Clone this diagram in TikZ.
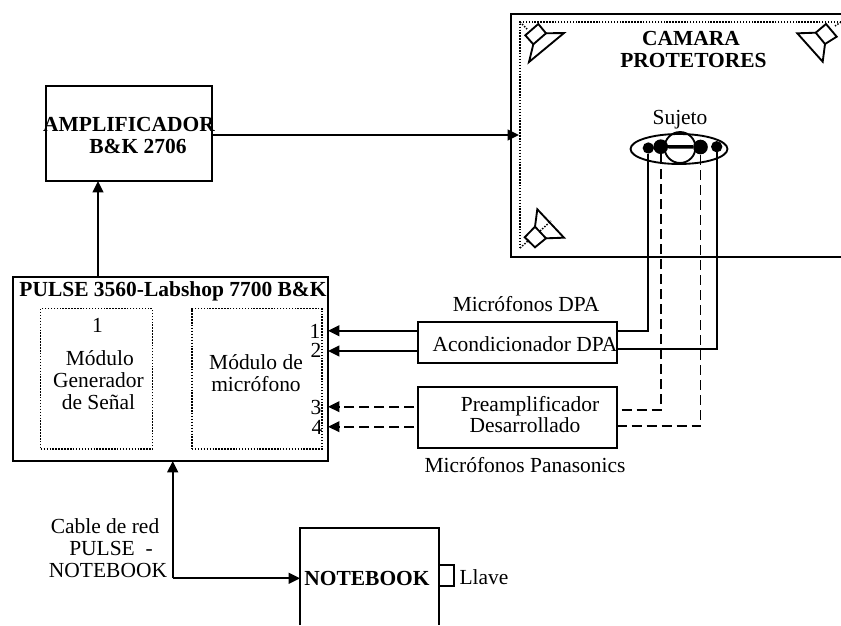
\documentclass[tikz,border=0pt]{standalone}
\usepackage{fontspec}
\setmainfont{Liberation Serif}
\usetikzlibrary{arrows.meta,shapes.geometric,calc}
\tikzset{
  box/.style={draw,line width=1.4pt,rectangle,inner sep=0pt,outer sep=0pt},
  dotbox/.style={draw,rectangle,inner sep=0pt,outer sep=0pt,dotline},
  dotline/.style={line width=1.1pt,dash pattern=on 1.1pt off 1.1pt},
  wire/.style={line width=1.5pt},
  dwire/.style={line width=1.2pt,dash pattern=on 7.5pt off 3.75pt},
  arr/.style={-{Triangle[length=8.5pt,width=8pt]}},
  txt/.style={inner sep=0pt,outer sep=0pt,font=\fontsize{16.1}{16.3}\selectfont,align=center},
  btxt/.style={txt,font=\fontsize{16.1}{16.3}\selectfont\bfseries},
  spk/.style={line width=1.4pt,line join=miter},
  micdot/.style={circle,fill=black,inner sep=0pt,outer sep=0pt,minimum size=8.5pt},
  bigdot/.style={circle,fill=black,inner sep=0pt,outer sep=0pt,minimum size=11pt},
}
\begin{document}
\begin{tikzpicture}[x=0.75pt,y=-0.75pt]
\useasboundingbox (0,0) rectangle (841,625);
% boxes
\node[box,minimum width=124.7pt,minimum height=71.5pt] (amp) at (129.15,133.35) {};
\node[box,minimum width=236.5pt,minimum height=138.2pt] (pulse) at (170.35,368.85) {};
\node[dotbox,minimum width=83.7pt,minimum height=105.2pt] (gen) at (96.5,378.85) {};
\node[dotbox,minimum width=97.5pt,minimum height=105.2pt] (mic) at (257,378.85) {};
\node[box,minimum width=149pt,minimum height=30.3pt] (acond) at (517.35,342.5) {};
\node[box,minimum width=149pt,minimum height=45.75pt] (preamp) at (517.35,417.5) {};
\node[box,minimum width=11pt,minimum height=15.75pt] (key) at (446.65,575.5) {};
% camera room (runs off the picture)
\coordinate (camTL) at (511,14);
\coordinate (camBL) at (511,257);
\coordinate (camTR) at (841,14);
\coordinate (camBR) at (841,257);
\draw[wire,line width=1.6pt] (camTR) -- (camTL) -- (camBL) -- (camBR);
\coordinate (inTL) at (520,22);
\coordinate (inBL) at (520,248);
\coordinate (inTR) at (841,22);
\draw[dotline] (inTR) -- (inTL) -- (inBL);
% notebook (runs off the picture)
\coordinate (nbTL) at (300,528);
\coordinate (nbTR) at (439.3,528);
\coordinate (nbBL) at (300,625);
\coordinate (nbBR) at (439.3,625);
\draw[wire,line width=1.4pt] (nbBL) -- (nbTL) -- (nbTR) -- (nbBR);
% speakers
\draw[spk] (538.3,24) -- (546,33.3) -- (533.3,44.3) -- (525.3,35.3) -- cycle;
\draw[spk] (546,33.3) -- (564,33) -- (529,62) -- (533.3,44.3);
\draw[spk] (826,24) -- (836.7,36.7) -- (825,44) -- (815.7,32.7) -- cycle;
\draw[spk] (815.7,32.7) -- (797.3,33.3) -- (822.7,61.7) -- (825,44);
\draw[spk] (535,226.7) -- (546,238.3) -- (535,247.3) -- (524.7,237.3) -- cycle;
\draw[spk] (546,238.3) -- (564,237.7) -- (537.3,209.3) -- (535,226.7);
\draw[dotline] (inTL) -- (527,29);
\draw[dotline] (inTR) -- (835,26);
\draw[dotline] (inBL) -- (529,240);
\draw[dotline] (540,231) -- (551,221);
% subject
\node[draw,ellipse,line width=1.4pt,inner sep=0pt,outer sep=0pt,minimum width=72.7pt,minimum height=22.5pt] (sujeto) at (679,149) {};
\node[draw,circle,line width=1.4pt,inner sep=0pt,outer sep=0pt,minimum size=23.2pt] (head) at (680,147.5) {};
\node[micdot] (m1) at (648.3,148) {};
\node[micdot] (m2) at (716.7,146.7) {};
\node[bigdot] (p1) at (660.7,146.7) {};
\node[bigdot] (p2) at (700.5,147) {};
\draw[line width=2.6pt] (p1) -- (p2);
% wires
\coordinate (wa) at (acond.east |- 0,330.7);
\coordinate (wb) at (acond.east |- 0,349.3);
\coordinate (wc) at (621.7,410);
\coordinate (wd) at (preamp.east |- 0,425.7);
\draw[wire] (m1.south) |- (wa);
\draw[wire] (m2.south) |- (wb);
\draw[dwire] (wc) -| (p1.south);
\draw[dwire] (wd) -| (p2.south);
% inputs to pulse
\coordinate (i1) at (acond.west |- 0,330.7);
\coordinate (i2) at (acond.west |- 0,351);
\coordinate (i3) at (414,406.7);
\coordinate (i4) at (414,426.7);
\draw[wire,arr] (i1) -- (i1 -| pulse.east);
\draw[wire,arr] (i2) -- (i2 -| pulse.east);
\draw[dwire,arr] (i3) -- (i3 -| pulse.east);
\draw[dwire,arr] (i4) -- (i4 -| pulse.east);
% main arrows
\draw[wire,arr] (pulse.north -| 98,0) -- (amp.south -| 98,0);
\coordinate (camIn) at (519,135);
\draw[wire,arr] (amp.east |- camIn) -- (camIn);
\coordinate (bend) at (172.7,578.3);
\draw[wire,arr] (bend) -- (bend |- pulse.south);
\draw[wire,arr] (bend) -- (bend -| nbTL);
% labels
\node[btxt] (tcam) at (691,49.5) {CAMARA\\\hspace*{3.75pt}PROTETORES};
\node[txt] (tsuj) at (680,120) {Sujeto};
\node[btxt] (tamp) at (129,135.5) {AMPLIFICADOR\\\hspace*{13.5pt}B\&K 2706};
\node[btxt] (tpulse) at (173,291.7) {PULSE 3560-Labshop 7700 B\&K};
\node[txt] (tone) at (97.5,325) {1};
\node[txt] (tgen) at (98.5,380) {\hspace*{2pt}Módulo\\Generador\\de Señal};
\node[txt] (tmic) at (256,373) {Módulo de\\micrófono};
\node[txt] (n1) at (315,331) {1};
\node[txt] (n2) at (316,350) {2};
\node[txt] (n3) at (316,407) {3};
\node[txt] (n4) at (317,427) {4};
\node[txt] (tdpa) at (526,304) {Micrófonos DPA};
\node[txt] (tacond) at (525,344) {Acondicionador DPA};
\node[txt] (tpre) at (525,414.5) {\hspace*{7.5pt}Preamplificador\\Desarrollado};
\node[txt] (tpan) at (525,465) {Micrófonos Panasonics};
\node[txt] (tcable) at (108,548) {Cable de red\hspace*{4.5pt}\\\hspace*{4.5pt}PULSE\ \ -\\NOTEBOOK};
\node[btxt] (tnb) at (367,578) {NOTEBOOK};
\node[txt] (tkey) at (484,577) {Llave};
\end{tikzpicture}
\end{document}
